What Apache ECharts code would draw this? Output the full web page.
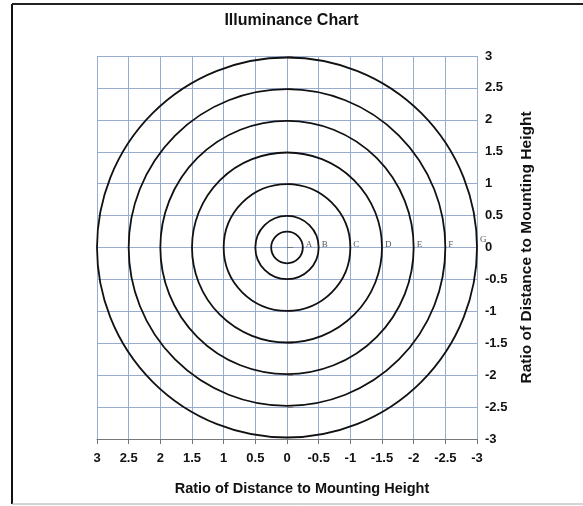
<!DOCTYPE html>
<html>
<head>
<meta charset="utf-8">
<script src="https://cdn.jsdelivr.net/npm/echarts@6/dist/echarts.min.js"></script>
<style>
  html, body { margin: 0; padding: 0; background: #fff; }
  #chart { width: 583px; height: 506px; }
</style>
</head>
<body>
<div id="chart"></div>
<script>
// ring radii (ratio of distance to mounting height) and their letters
var radii = [0.25, 0.5, 1, 1.5, 2, 2.5, 3];
var ringLabels = ["A", "B", "C", "D", "E", "F", "G"];
var axisMin = -3;
var axisMax = 3;
var step = 0.5;

var chart = echarts.init(document.getElementById("chart"));

var font = "Liberation Sans, Arial, sans-serif";

var option = {
  animation: false,
  backgroundColor: "#fff",
  title: {
    text: "Illuminance Chart",
    left: "center",
    top: 8,
    textStyle: { fontFamily: font, fontSize: 16, fontWeight: "bold", color: "#111" }
  },
  graphic: [
    // outer frame
    { type: "line", shape: { x1: 12, y1: 4, x2: 12, y2: 504 }, style: { stroke: "#111", lineWidth: 2 } },
    { type: "line", shape: { x1: 12, y1: 4, x2: 583, y2: 4 }, style: { stroke: "#222", lineWidth: 2 } },
    { type: "line", shape: { x1: 12, y1: 504, x2: 583, y2: 504 }, style: { stroke: "#aaa", lineWidth: 1 } }
  ],
  grid: { left: 97, right: 106, top: 56, bottom: 67 },
  xAxis: {
    type: "value",
    min: axisMin,
    max: axisMax,
    interval: step,
    inverse: true,
    name: "Ratio of Distance to Mounting Height",
    nameLocation: "middle",
    nameGap: 42,
    nameTextStyle: { fontFamily: font, fontSize: 14.5, fontWeight: "bold", color: "#111", padding: [0, 0, 0, 30] },
    axisLine: { show: true, onZero: false, lineStyle: { color: "#777", width: 1 } },
    axisTick: { show: true, length: 5, lineStyle: { color: "#777" } },
    axisLabel: { fontFamily: font, fontSize: 13, fontWeight: "bold", color: "#111", margin: 13 },
    splitLine: { show: true, lineStyle: { color: "#9aabd0", width: 1 } }
  },
  yAxis: {
    type: "value",
    position: "right",
    min: axisMin,
    max: axisMax,
    interval: step,
    name: "Ratio of Distance to Mounting Height",
    nameLocation: "middle",
    nameGap: 37,
    nameRotate: 90,
    nameTextStyle: { fontFamily: font, fontSize: 15.5, fontWeight: "bold", color: "#111" },
    axisLine: { show: false },
    axisTick: { show: true, length: 6, lineStyle: { color: "#777" } },
    axisLabel: { fontFamily: font, fontSize: 13, fontWeight: "bold", color: "#111", margin: 8 },
    splitLine: { show: true, lineStyle: { color: "#9aabd0", width: 1 } }
  },
  series: [
    {
      type: "custom",
      coordinateSystem: "cartesian2d",
      data: radii.map(function (r, i) { return [r, ringLabels[i]]; }),
      encode: { x: 0 },
      renderItem: function (params, api) {
        var r = api.value(0);
        var c = api.coord([0, 0]);
        var edge = api.coord([-r, 0]);
        var pr = Math.abs(api.size([r, 0])[0]);
        var last = params.dataIndex === radii.length - 1;
        return {
          type: "group",
          children: [
            {
              type: "circle",
              shape: { cx: c[0], cy: c[1], r: pr },
              style: { fill: "none", stroke: "#111", lineWidth: 1.8 }
            },
            {
              type: "text",
              x: edge[0] + 3,
              y: edge[1] - (last ? 8 : 3),
              style: {
                text: ringLabels[params.dataIndex],
                fontFamily: "Liberation Serif, serif",
                fontSize: 9,
                fill: "#555",
                verticalAlign: "middle"
              }
            }
          ]
        };
      },
      z: 3
    }
  ]
};

chart.setOption(option);
</script>
</body>
</html>
